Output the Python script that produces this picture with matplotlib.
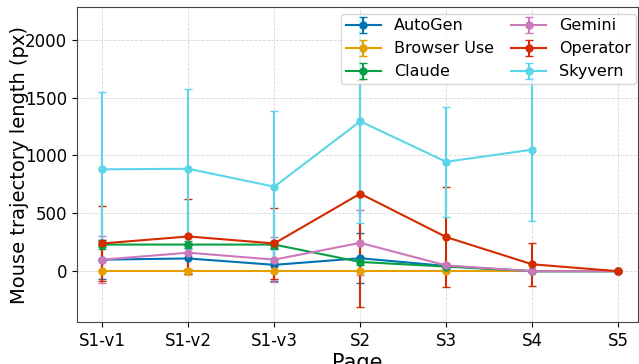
import numpy as np
import matplotlib
matplotlib.use('Agg')
import matplotlib.pyplot as plt

pages = ['S1-v1', 'S1-v2', 'S1-v3', 'S2', 'S3', 'S4', 'S5']
nan = np.nan

agents = ['AutoGen', 'Browser Use', 'Claude', 'Gemini', 'Operator', 'Skyvern']
colors = ['#0173B2', '#E69F00', '#07A044', '#CC78BC', '#D62A00', '#5BD5EA']

autogen_mean = [100, 110, 55, 112, 45, 0, 0]
autogen_std = [170, 130, 140, 215, 20, 0, 0]
browser_mean = [0, 0, 0, 0, 0, 0, 0]
browser_std = [0, 20, 0, 0, 0, 0, 0]
claude_mean = [230, 230, 230, 80, 40, 0, 0]
claude_std = [40, 30, 30, 30, 10, 0, 0]
gemini_mean = [100, 160, 100, 245, 50, 0, 0]
gemini_std = [200, 140, 195, 280, 20, 0, 0]
operator_mean = [240, 300, 240, 670, 295, 60, 0]
operator_std = [325, 325, 305, 980, 435, 185, 0]
skyvern_mean = [880, 885, 730, 1295, 945, 1050, nan]
skyvern_std = [668, 690, 653, 875, 477, 620, nan]

means = [autogen_mean, browser_mean, claude_mean, gemini_mean, operator_mean, skyvern_mean]
stds = [autogen_std, browser_std, claude_std, gemini_std, operator_std, skyvern_std]

fig, ax = plt.subplots(figsize=(6.39, 3.64), dpi=100)
x = np.arange(len(pages))
for name, m, s, c in zip(agents, means, stds, colors):
    ax.errorbar(x, m, yerr=s, label=name, color=c, marker='o', markersize=5,
                linewidth=1.5, capsize=3, elinewidth=1.5)

ax.set_xticks(x)
ax.set_xticklabels(pages, fontsize=12)
ax.tick_params(axis='y', labelsize=12)
ax.set_xlim(-0.3, 6.23)
ax.set_ylim(-440, 2280)
ax.set_xlabel('Page', fontsize=15, labelpad=2)
ax.set_ylabel('Mouse trajectory length (px)', fontsize=14, labelpad=-3)
ax.grid(True, linestyle='--', linewidth=0.6, alpha=0.5)
for sp in ax.spines.values():
    sp.set_color('#444444')
ax.legend(ncol=2, loc='upper right', bbox_to_anchor=(0.997, 0.98), borderaxespad=0,
          fontsize=11.5, handlelength=2.2, columnspacing=1.1, borderpad=0.3,
          labelspacing=0.5)

plt.subplots_adjust(left=0.12, right=0.998, top=0.98, bottom=0.115)
plt.savefig('out.png', dpi=100)
